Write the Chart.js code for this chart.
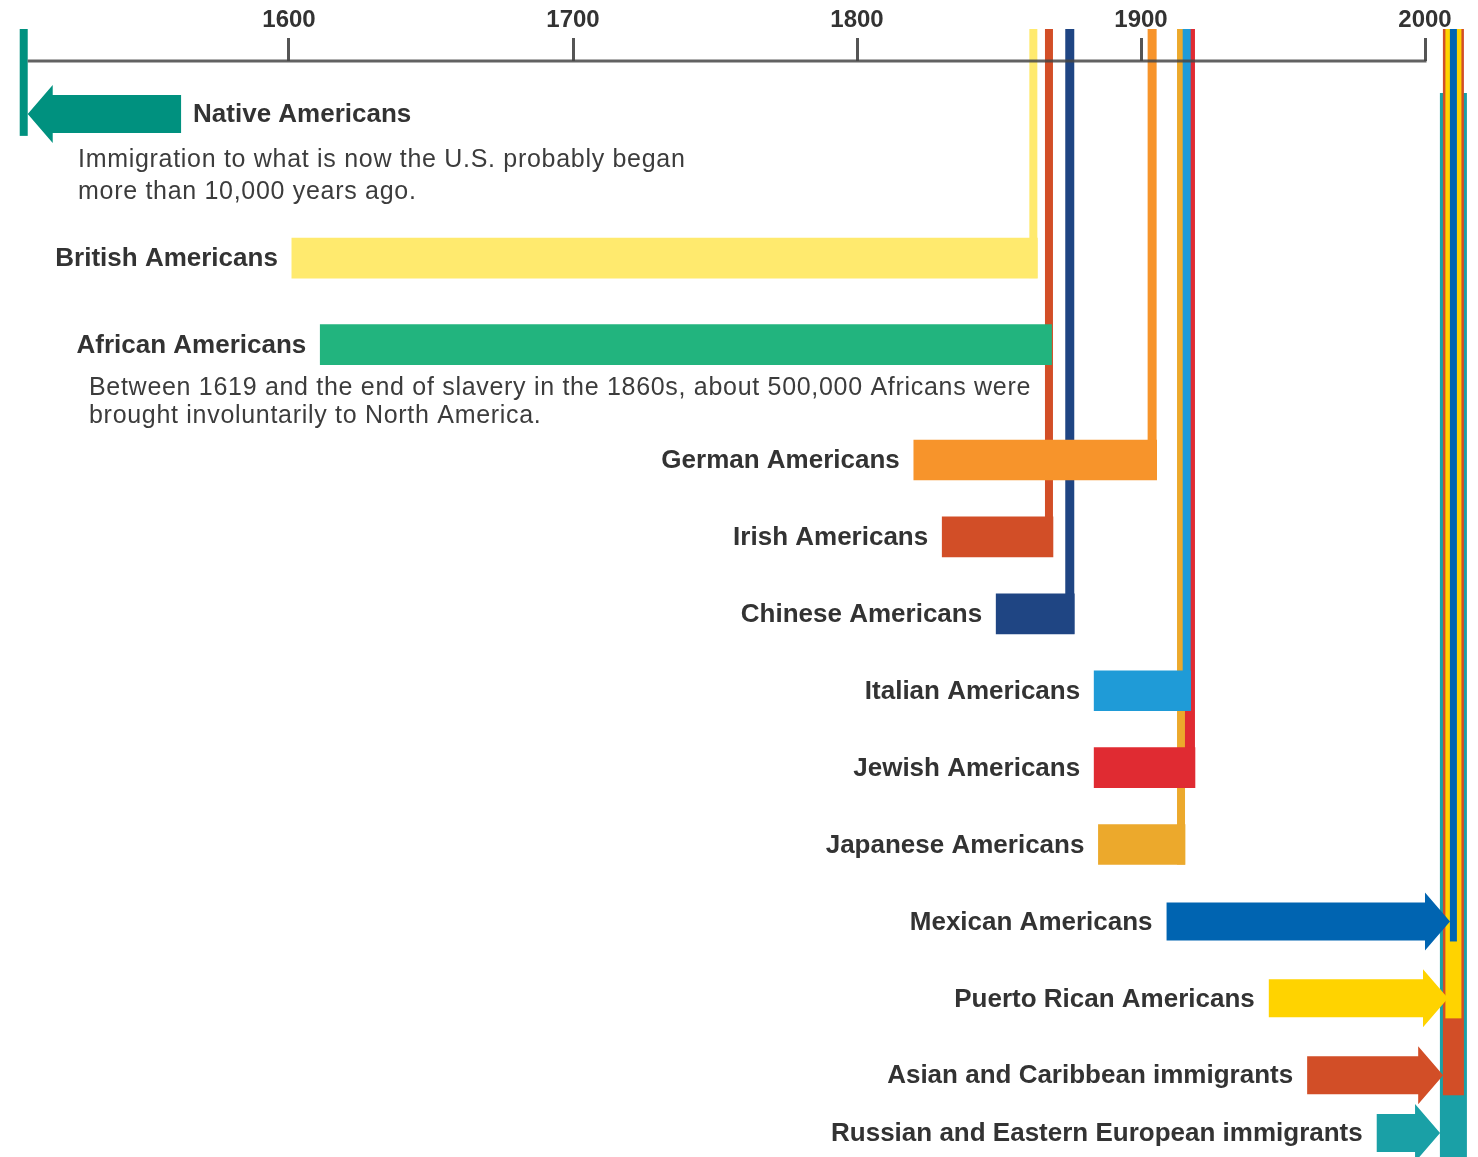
<!DOCTYPE html>
<html>
<head>
<meta charset="utf-8">
<script src="https://cdn.jsdelivr.net/npm/chart.js@4"></script>
<style>
  html, body { margin: 0; padding: 0; background: #fff; }
  #wrap { width: 1478px; height: 1157px; position: relative; }
</style>
</head>
<body>
<div id="wrap"><canvas id="timeline"></canvas></div>
<script>
// Data
const groups = [
    'Native Americans', 'British Americans', 'African Americans', 'German Americans',
    'Irish Americans', 'Chinese Americans', 'Italian Americans', 'Jewish Americans',
    'Japanese Americans', 'Mexican Americans', 'Puerto Rican Americans',
    'Asian and Caribbean immigrants', 'Russian and Eastern European immigrants'
];
const startYears = [1508, 1601, 1611, 1820, 1830, 1849, 1883.5, 1883.5, 1885, 1909, 1945, 1958.5, 1983];
const endYears = [1562, 1863.5, 1868.5, 1905.5, 1869, 1876.5, 1917.5, 1919, 1915.5, 2008.8, 2008.1, 2006.4, 2005.3];
const axisYears = [1600, 1700, 1800, 1900, 2000];
const presentYear = 2010;
const nativeNote = ['Immigration to what is now the U.S. probably began', 'more than 10,000 years ago.'];
const africanNote = ['Between 1619 and the end of slavery in the 1860s, about 500,000 Africans were', 'brought involuntarily to North America.'];

// Row order on the page, blank strings are thin spacer rows
const pad = n => Array(n).fill('');
const rowLabels = [
    ...pad(5), groups[0], ...pad(14), groups[1], ...pad(8), groups[2], ...pad(11), groups[3],
    ...pad(7), groups[4], ...pad(7), groups[5], ...pad(7), groups[6], ...pad(7), groups[7],
    ...pad(7), groups[8], ...pad(7), groups[9], ...pad(7), groups[10], ...pad(7), groups[11],
    ...pad(5), groups[12], ...pad(2)
];

// Styles
const colors = ['#00917F', '#FFEA6E', '#22B47E', '#F7942B', '#D24E27', '#1F4583', '#1F9BD7',
                '#E02B32', '#ECA92C', '#0064B1', '#FFD300', '#D24E27', '#1AA0A6'];
const arrowRows = { 0: 'left', 9: 'right', 10: 'right', 11: 'right', 12: 'right' };
const stems = [
    { w: 8, align: 'start' }, { w: 8, align: 'end' }, null, { w: 9, align: 'end' },
    { w: 8, align: 'end' }, { w: 9, align: 'end' }, { w: 8, align: 'end' }, { w: 10, align: 'end' },
    { w: 8, align: 'end' }, { w: 7, align: 'now' }, { w: 16, align: 'now' },
    { w: 21, align: 'now' }, { w: 27, align: 'now', low: true }
];
const FONT = '"Liberation Sans", Arial, Helvetica, sans-serif';
const TEXT = '#333333';

const timelinePlugin = {
    id: 'timeline',
    beforeDatasetsDraw(chart) {
        const ctx = chart.ctx;
        const xs = chart.scales.x;
        const meta = chart.getDatasetMeta(0);
        const axisY = chart.chartArea.top;
        ctx.save();
        // vertical stems, drawn from the last row up so earlier rows sit on top
        for (let i = groups.length - 1; i >= 0; i--) {
            const st = stems[i];
            if (!st) continue;
            const bar = meta.data[i];
            let left;
            if (st.align === 'start') left = bar.base - st.w;
            else if (st.align === 'end') left = bar.x - st.w;
            else left = xs.getPixelForValue(presentYear) - st.w / 2;
            const top = st.low ? axisY + 32 : axisY - 32;
            const bottom = i === 12 ? chart.height : bar.y + bar.height / 2 + (i === 0 ? 2 : 0);
            ctx.fillStyle = colors[i];
            ctx.fillRect(left, top, st.w, bottom - top);
        }
        ctx.restore();
    },
    afterDatasetsDraw(chart) {
        const ctx = chart.ctx;
        const xs = chart.scales.x;
        const meta = chart.getDatasetMeta(0);
        ctx.save();
        // arrows
        Object.keys(arrowRows).forEach(k => {
            const i = +k;
            const bar = meta.data[i];
            const bh = 19, hh = 29, hl = 25;
            const y = bar.y;
            ctx.fillStyle = colors[i];
            ctx.beginPath();
            if (arrowRows[k] === 'right') {
                const tip = bar.x, tail = bar.base;
                ctx.moveTo(tail, y - bh);
                ctx.lineTo(tip - hl, y - bh);
                ctx.lineTo(tip - hl, y - hh);
                ctx.lineTo(tip, y);
                ctx.lineTo(tip - hl, y + hh);
                ctx.lineTo(tip - hl, y + bh);
                ctx.lineTo(tail, y + bh);
            } else {
                const tip = bar.base, tail = bar.x;
                ctx.moveTo(tail, y - bh);
                ctx.lineTo(tip + hl, y - bh);
                ctx.lineTo(tip + hl, y - hh);
                ctx.lineTo(tip, y);
                ctx.lineTo(tip + hl, y + hh);
                ctx.lineTo(tip + hl, y + bh);
                ctx.lineTo(tail, y + bh);
            }
            ctx.closePath();
            ctx.fill();
        });

        // axis base line over the stems
        const y0 = chart.chartArea.top;
        ctx.strokeStyle = 'rgba(70,70,70,0.85)';
        ctx.lineWidth = 3;
        ctx.beginPath();
        ctx.moveTo(xs.getPixelForValue(startYears[0]), y0);
        ctx.lineTo(xs.getPixelForValue(2000) + 1.5, y0);
        ctx.stroke();

        // group names
        ctx.fillStyle = TEXT;
        ctx.textBaseline = 'middle';
        ctx.font = 'bold 26px ' + FONT;
        groups.forEach((g, i) => {
            const bar = meta.data[i];
            if (i === 0) {
                ctx.textAlign = 'left';
                ctx.fillText(g, bar.x + 12, bar.y + 1);
            } else {
                ctx.textAlign = 'right';
                ctx.fillText(g, bar.base - 14, bar.y + 1);
            }
        });

        // notes
        ctx.fillStyle = '#3c3c3c';
        ctx.textAlign = 'left';
        ctx.font = '25px ' + FONT;
        ctx.letterSpacing = '0.7px';
        const nb = meta.data[0], ab = meta.data[2];
        nativeNote.forEach((t, j) => ctx.fillText(t, 78, nb.y + 46 + j * 32));
        africanNote.forEach((t, j) => ctx.fillText(t, 89, ab.y + 43 + j * 28));
        ctx.restore();
    }
};

new Chart(document.getElementById('timeline'), {
    type: 'bar',
    data: {
        labels: rowLabels,
        datasets: [{
            data: groups.map((g, i) => ({ y: g, x: [startYears[i], endYears[i]] })),
            backgroundColor: colors.map((c, i) => (i in arrowRows ? 'rgba(0,0,0,0)' : c)),
            barThickness: 40,
            borderSkipped: false
        }]
    },
    options: {
        indexAxis: 'y',
        responsive: true,
        maintainAspectRatio: false,
        animation: false,
        layout: { padding: 0 },
        plugins: {
            legend: { display: false },
            tooltip: { enabled: false }
        },
        scales: {
            x: {
                type: 'linear',
                position: 'top',
                min: 1498.24,
                max: 2018.66,
                afterBuildTicks: scale => {
                    scale.ticks = axisYears.map(v => ({ value: v }));
                },
                afterFit: scale => {
                    scale.height = 61;
                },
                ticks: {
                    callback: v => String(v),
                    color: TEXT,
                    font: { family: FONT, size: 24, weight: 'bold' },
                    padding: 3,
                    maxRotation: 0,
                    autoSkip: false
                },
                grid: {
                    drawOnChartArea: false,
                    drawTicks: true,
                    tickLength: 23,
                    tickWidth: 3,
                    tickColor: '#555555'
                },
                border: { display: false }
            },
            y: {
                type: 'category',
                display: false
            }
        }
    },
    plugins: [timelinePlugin]
});
</script>
</body>
</html>
